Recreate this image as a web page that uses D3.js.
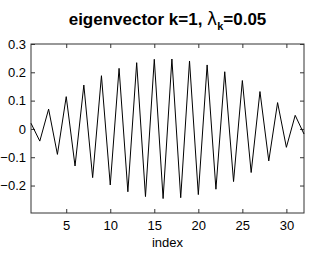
<!DOCTYPE html>
<html>
<head>
<meta charset="utf-8">
<script src="https://cdn.jsdelivr.net/npm/d3@7"></script>
<style>
  body { margin: 0; background: #fff; }
  text { font-family: "Liberation Sans", Arial, sans-serif; }
</style>
</head>
<body>
<script>
const width = 309;
const height = 254;
const margin = { top: 44, right: 5, bottom: 41, left: 31 };

// eigenvector entries, index 1..32
const indices = d3.range(1, 33);
const values = [
  0.020, -0.043, 0.070, -0.090, 0.114, -0.131, 0.155, -0.172,
  0.188, -0.198, 0.214, -0.222, 0.234, -0.239, 0.246, -0.246,
  0.247, -0.243, 0.240, -0.232, 0.226, -0.213, 0.202, -0.186,
  0.171, -0.154, 0.132, -0.113, 0.093, -0.065, 0.048, -0.018
];
const xTicks = [5, 10, 15, 20, 25, 30];
const yTicks = [-0.2, -0.1, 0, 0.1, 0.2, 0.3];

const svg = d3
  .select("body")
  .append("svg")
  .attr("width", width)
  .attr("height", height);

const x = d3.scaleLinear().domain([1, 32]).range([margin.left, width - margin.right]);
const y = d3.scaleLinear().domain([-0.297, 0.3]).range([height - margin.bottom, margin.top]);

const axisColor = "#333";

// box
svg
  .append("rect")
  .attr("x", x(1))
  .attr("y", y(0.3))
  .attr("width", x(32) - x(1))
  .attr("height", y(-0.297) - y(0.3))
  .attr("fill", "none")
  .attr("stroke", axisColor)
  .attr("stroke-width", 1);

// axes with inward ticks
const fmtY = (d) => (d === 0 ? "0" : d3.format(".1f")(d));

const xBottom = svg
  .append("g")
  .attr("transform", `translate(0,${y(-0.297)})`)
  .call(d3.axisBottom(x).tickValues(xTicks).tickSizeInner(-4).tickSizeOuter(0).tickPadding(8));
const xTop = svg
  .append("g")
  .attr("transform", `translate(0,${y(0.3)})`)
  .call(d3.axisTop(x).tickValues(xTicks).tickSizeInner(-4).tickSizeOuter(0).tickFormat(""));
const yLeft = svg
  .append("g")
  .attr("transform", `translate(${x(1)},0)`)
  .call(d3.axisLeft(y).tickValues(yTicks).tickSizeInner(-4).tickSizeOuter(0).tickPadding(5).tickFormat(fmtY));
const yRight = svg
  .append("g")
  .attr("transform", `translate(${x(32)},0)`)
  .call(d3.axisRight(y).tickValues(yTicks).tickSizeInner(-4).tickSizeOuter(0).tickFormat(""));

[xBottom, xTop, yLeft, yRight].forEach((g) => {
  g.select(".domain").remove();
  g.selectAll("line").attr("stroke", axisColor);
  g.selectAll("text").attr("font-size", 13).attr("fill", "#000").attr("font-family", "Liberation Sans, Arial, sans-serif");
});

// the vector
const line = d3
  .line()
  .x((d, i) => x(indices[i]))
  .y((d) => y(d));

svg
  .append("path")
  .datum(values)
  .attr("d", line)
  .attr("fill", "none")
  .attr("stroke", "#000")
  .attr("stroke-width", 1);

// x label
svg
  .append("text")
  .attr("x", (x(1) + x(32)) / 2)
  .attr("y", 247)
  .attr("text-anchor", "middle")
  .attr("font-size", 13)
  .text("index");

// title
const title = svg
  .append("text")
  .attr("x", (x(1) + x(32)) / 2)
  .attr("y", 25)
  .attr("text-anchor", "middle")
  .attr("font-size", 17)
  .attr("font-weight", "bold");
title.append("tspan").text("eigenvector k=1, ");
title.append("tspan").attr("font-weight", "normal").attr("font-family", "DejaVu Sans").text("λ");
title.append("tspan").attr("font-size", 11).attr("dy", 5).text("k");
title.append("tspan").attr("dy", -5).text("=0.05");
</script>
</body>
</html>
